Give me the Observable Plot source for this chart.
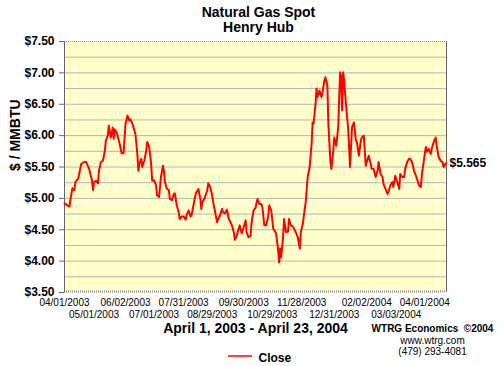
<!DOCTYPE html>
<html><head><meta charset="utf-8">
<script src="https://cdn.jsdelivr.net/npm/d3@7"></script>
<script src="https://cdn.jsdelivr.net/npm/@observablehq/plot@0.6"></script>
<style>body{margin:0;background:#fff}</style>
</head><body><div id="chart"></div>
<script>
// ---- data ----
const startDate = "2003-04-01";
const endDate = "2004-04-23";
// days since 2003-04-01
const days = [0,5,6,8,10,11,14,17,20,22,25,28,29,30,32,34,35,37,39,41,42,44,45,47,49,50,51,53,56,58,60,62,64,66,67,69,71,72,74,75,76,78,79,81,83,84,86,88,89,91,93,94,96,98,100,101,102,104,106,107,109,111,112,114,116,117,119,121,123,124,126,128,129,131,133,134,136,138,139,140,142,145,146,148,150,151,153,155,156,158,160,161,163,165,167,168,170,172,173,175,177,178,180,182,184,185,187,189,190,192,194,196,198,200,201,203,205,207,208,210,212,213,215,217,218,219,220,222,223,225,227,228,230,232,234,235,237,239,240,242,244,245,247,249,251,252,253,255,256,257,259,261,262,264,265,267,268,270,271,273,274,276,278,279,280,281,282,283,284,286,288,289,290,292,294,296,297,299,301,302,304,306,307,309,311,312,314,316,318,319,321,323,324,326,328,329,331,333,334,336,338,340,341,343,345,346,348,350,351,353,355,357,358,360,362,363,365,367,368,370,372,373,375,377,378,380,382,384,385,387,388];
const close = [4.92,4.87,4.98,5.16,5.13,5.26,5.32,5.55,5.58,5.58,5.47,5.28,5.13,5.26,5.28,5.24,5.44,5.58,5.60,5.76,5.92,6.00,6.16,5.97,6.13,5.95,6.10,6.05,5.87,5.72,5.72,6.19,6.32,6.24,6.26,6.19,6.08,6.03,5.71,5.44,5.55,5.63,5.50,5.60,5.76,5.90,5.82,5.55,5.28,5.29,5.21,5.05,5.02,5.34,5.52,5.44,5.26,5.15,5.13,4.99,4.97,5.07,5.08,4.89,4.78,4.67,4.71,4.71,4.66,4.73,4.81,4.71,4.73,4.89,5.05,5.10,5.15,4.99,4.83,4.94,4.99,5.13,5.24,5.18,5.05,4.94,4.78,4.62,4.67,4.73,4.83,4.78,4.76,4.82,4.66,4.64,4.57,4.46,4.34,4.41,4.52,4.57,4.44,4.54,4.65,4.46,4.38,4.40,4.62,4.81,4.85,4.99,4.91,4.91,4.86,4.57,4.57,4.73,4.89,4.81,4.52,4.49,4.44,4.17,3.98,4.20,4.06,4.38,4.67,4.46,4.47,4.67,4.57,4.55,4.49,4.46,4.38,4.20,4.46,4.59,4.83,4.94,5.34,5.50,5.87,6.21,6.19,6.51,6.75,6.61,6.72,6.61,6.69,6.88,6.93,6.80,6.19,5.60,5.47,5.76,5.97,5.84,6.13,6.61,7.01,6.93,6.40,7.01,6.88,6.48,6.13,5.84,5.50,6.13,6.21,5.92,5.90,5.68,5.92,5.97,6.00,5.52,5.58,5.68,5.55,5.47,5.47,5.34,5.44,5.58,5.39,5.34,5.23,5.15,5.07,5.10,5.21,5.26,5.18,5.36,5.26,5.15,5.39,5.34,5.34,5.47,5.58,5.63,5.63,5.58,5.44,5.36,5.31,5.21,5.18,5.39,5.60,5.82,5.74,5.79,5.71,5.79,5.90,5.97,5.84,5.66,5.60,5.58,5.50,5.55,5.565];
const tickDates = ["2003-04-01","2003-05-01","2003-06-02","2003-07-01","2003-07-31","2003-08-29","2003-09-30","2003-10-29","2003-11-28","2003-12-31","2004-02-02","2004-03-03","2004-04-01"];
const yTicks = [3.5,4.0,4.5,5.0,5.5,6.0,6.5,7.0,7.5];
const yGrid = [3.75,4.0,4.25,4.5,4.75,5.0,5.25,5.5,5.75,6.0,6.25,6.5,6.75,7.0,7.25];
const lastValue = 5.565;
const lastLabel = "$5.565";
const titleLines = ["Natural Gas Spot", "Henry Hub"];
const yLabel = "$ / MMBTU";
const xLabel = "April 1, 2003 - April 23, 2004";
const credits = ["WTRG Economics  \u00A92004", "www.wtrg.com", "(479) 293-4081"];
const seriesName = "Close";

// ---- build ----
const start = new Date(startDate);
const end = new Date(endDate);
const data = days.map((d, i) => ({date: d3.utcDay.offset(start, d), close: close[i]}));
const ticks = tickDates.map(s => new Date(s));
const row1 = ticks.filter((d, i) => i % 2 === 0);
const row2 = ticks.filter((d, i) => i % 2 === 1);
const fmt = d3.utcFormat("%m/%d/%Y");
const F = "'Liberation Sans', Arial, sans-serif";

const legendSwatch = (index, scales, values, dims) => {
  const cx = dims.marginLeft + (dims.width - dims.marginLeft - dims.marginRight) / 2;
  const g = d3.create("svg:g");
  g.append("line").attr("x1", cx - 27).attr("x2", cx - 3)
    .attr("y1", dims.height - 10).attr("y2", dims.height - 10)
    .attr("stroke", "#ff0000").attr("stroke-width", 1.5);
  return g.node();
};

const chart = Plot.plot({
  width: 504, height: 366,
  marginLeft: 64, marginRight: 58, marginTop: 41, marginBottom: 74,
  style: {fontFamily: F, background: "#fff", color: "#000", overflow: "visible"},
  x: {type: "utc", domain: [start, end]},
  y: {domain: [3.5, 7.5]},
  marks: [
    Plot.frame({fill: "#ffffcc", stroke: null}),
    Plot.ruleY(yGrid, {stroke: "#b4b4b4", strokeWidth: 1}),
    Plot.ruleY([7.5], {stroke: "#909090", strokeDasharray: "1,1"}),
    Plot.ruleY([3.5], {stroke: "#a0a0a0", strokeWidth: 2.5, strokeDasharray: "1,1", dy: -1}),
    Plot.ruleX([start, end], {stroke: "#666"}),
    Plot.axisY({ticks: yTicks, tickFormat: d => "$" + d.toFixed(2), tickSize: 5, tickPadding: 5,
      fontSize: 12, fontWeight: "bold", label: null, stroke: "#666"}),
    Plot.axisX({ticks: row1, tickFormat: fmt, tickSize: 0, tickPadding: 6, fontSize: 10, label: null}),
    Plot.axisX({ticks: row2, tickFormat: fmt, tickSize: 0, tickPadding: 18, fontSize: 10, label: null}),
    Plot.line(data, {x: "date", y: "close", stroke: "#ff0000", strokeWidth: 2}),
    Plot.text([lastLabel], {x: () => end, y: () => lastValue, textAnchor: "start", dx: 3, fontSize: 12, fontWeight: "bold"}),
    Plot.text([titleLines[0]], {frameAnchor: "top", dx: 3, dy: -25, lineAnchor: "bottom", fontSize: 14, fontWeight: "bold"}),
    Plot.text([titleLines[1]], {frameAnchor: "top", dx: 3, dy: -10, lineAnchor: "bottom", fontSize: 14, fontWeight: "bold"}),
    Plot.text([yLabel], {frameAnchor: "left", rotate: -90, dx: -49, dy: 4, fontSize: 14, fontWeight: "bold"}),
    Plot.text([xLabel], {frameAnchor: "bottom", dy: 40, lineAnchor: "bottom", fontSize: 14, fontWeight: "bold"}),
    Plot.text([credits[0]], {frameAnchor: "bottom-right", dx: -14, dy: 39, textAnchor: "middle", lineAnchor: "bottom", fontSize: 10, fontWeight: "bold"}),
    Plot.text([credits[1]], {frameAnchor: "bottom-right", dx: -14, dy: 51, textAnchor: "middle", lineAnchor: "bottom", fontSize: 10}),
    Plot.text([credits[2]], {frameAnchor: "bottom-right", dx: -14, dy: 62, textAnchor: "middle", lineAnchor: "bottom", fontSize: 10}),
    legendSwatch,
    Plot.text([seriesName], {frameAnchor: "bottom", dx: 3, dy: 69, textAnchor: "start", lineAnchor: "bottom", fontSize: 12, fontWeight: "bold"})
  ]
});
document.getElementById("chart").appendChild(chart);
</script>
</body></html>
